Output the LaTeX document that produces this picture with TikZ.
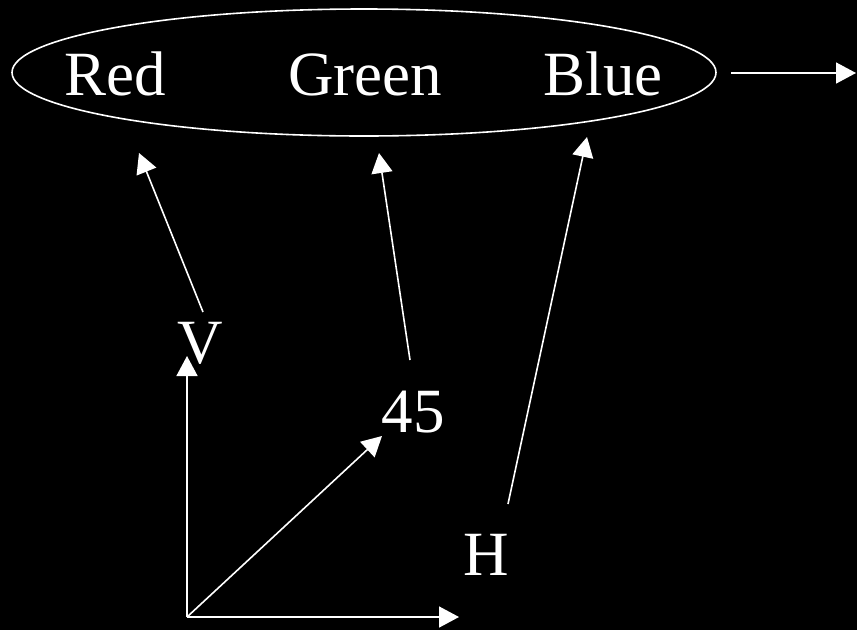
\documentclass[tikz,border=0pt]{standalone}
\usepackage{fontspec}
\setmainfont{Liberation Serif}
\usetikzlibrary{arrows.meta,shapes.geometric}
\begin{document}
\begin{tikzpicture}[x=1pt,y=-1pt,
  lbl/.style={text=white,font=\fontsize{63}{70}\selectfont,anchor=base,inner sep=0pt},
  conn/.style={draw=white,line width=1.6pt,-{Triangle[length=20pt,width=21pt]}}]
\fill[black] (0,0) rectangle (857,630);
\useasboundingbox (0,0) rectangle (857,630);
\node[draw=white,line width=1.6pt,ellipse,minimum width=704pt,minimum height=127pt,inner sep=0pt] (ell) at (364,72.5) {};
\node[lbl] (red) at (115,95) {Red};
\node[lbl] (green) at (365,95) {Green};
\node[lbl] (blue) at (603,95) {Blue};
\node[lbl] (v) at (200,363) {V};
\node[lbl] (f) at (413,432) {45};
\node[lbl] (h) at (486,575) {H};
\coordinate (rt) at (139,153);
\coordinate (gt) at (379,153);
\coordinate (bt) at (587,137);
\coordinate (vs) at (203,312);
\coordinate (fs) at (410,360);
\coordinate (hs) at (508,504);
\coordinate (o) at (187,617);
\coordinate (vt) at (187,356);
\coordinate (ht) at (459,617);
\coordinate (dt) at (382,436);
\coordinate (os) at (731,73);
\coordinate (ot) at (856,73);
\draw[conn] (vs) -- (rt);
\draw[conn] (fs) -- (gt);
\draw[conn] (hs) -- (bt);
\draw[conn] (o) -- (vt);
\draw[conn] (o) -- (ht);
\draw[conn] (o) -- (dt);
\draw[conn] (os) -- (ot);
\end{tikzpicture}
\end{document}
